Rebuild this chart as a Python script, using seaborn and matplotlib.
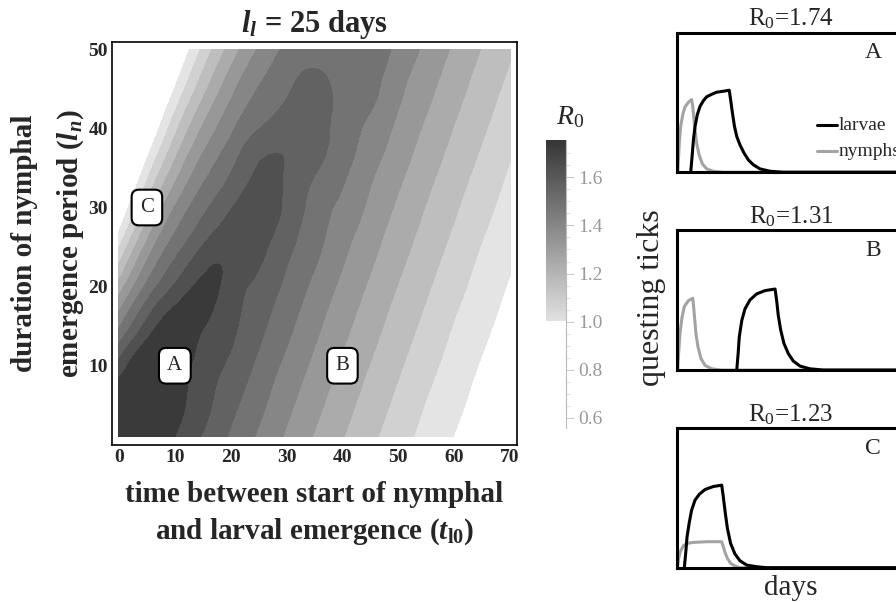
import numpy as np
import pandas as pd
import matplotlib
matplotlib.use("Agg")
import matplotlib.pyplot as plt
import matplotlib.tri as mtri
import seaborn as sns
from matplotlib.colors import LinearSegmentedColormap, Normalize
from matplotlib.cm import ScalarMappable

# R0: rows are l_n, columns are t_l0
t_l0 = [0, 5, 10, 15, 20, 25, 30, 35, 40, 45, 50, 55, 60, 65, 70]
l_n = [1, 5, 10, 15, 20, 25, 30, 35, 40, 45, 50]
r0 = [
    [1.750, 1.706, 1.630, 1.554, 1.481, 1.410, 1.341, 1.275, 1.213, 1.156, 1.099, 1.047, 0.998, 0.949, 0.901],
    [1.728, 1.728, 1.660, 1.584, 1.510, 1.439, 1.368, 1.301, 1.238, 1.178, 1.122, 1.066, 1.018, 0.969, 0.920],
    [1.585, 1.700, 1.675, 1.600, 1.547, 1.474, 1.403, 1.334, 1.269, 1.207, 1.150, 1.094, 1.042, 0.993, 0.945],
    [1.413, 1.585, 1.673, 1.635, 1.575, 1.510, 1.439, 1.368, 1.301, 1.238, 1.178, 1.122, 1.066, 1.018, 0.969],
    [1.241, 1.439, 1.570, 1.645, 1.600, 1.540, 1.474, 1.403, 1.334, 1.269, 1.207, 1.150, 1.094, 1.042, 0.993],
    [1.069, 1.305, 1.458, 1.565, 1.610, 1.584, 1.510, 1.439, 1.368, 1.301, 1.238, 1.178, 1.122, 1.066, 1.018],
    [0.910, 1.164, 1.354, 1.471, 1.555, 1.590, 1.547, 1.460, 1.403, 1.334, 1.269, 1.207, 1.150, 1.094, 1.042],
    [0.790, 1.029, 1.235, 1.384, 1.481, 1.565, 1.555, 1.500, 1.439, 1.368, 1.301, 1.238, 1.178, 1.122, 1.066],
    [0.685, 0.905, 1.119, 1.288, 1.406, 1.488, 1.525, 1.520, 1.460, 1.403, 1.334, 1.269, 1.207, 1.150, 1.094],
    [0.594, 0.800, 1.004, 1.185, 1.328, 1.423, 1.480, 1.515, 1.470, 1.439, 1.368, 1.301, 1.238, 1.178, 1.122],
    [0.520, 0.710, 0.900, 1.086, 1.237, 1.356, 1.434, 1.455, 1.455, 1.450, 1.403, 1.334, 1.269, 1.207, 1.150],
]
# extra readings along the crest of the R0 ridge
ridge_t = [5.1, 9.4, 13.6, 17.9, 22.1, 26.4, 30.6, 33.5, 35.5]
ridge_l = [7.5, 12.5, 17.5, 22.5, 27.5, 32.5, 37.5, 42.5, 47.5]
ridge_r0 = [1.714, 1.687, 1.659, 1.632, 1.604, 1.577, 1.549, 1.522, 1.490]
levels = [1.00, 1.07, 1.14, 1.21, 1.28, 1.35, 1.42, 1.49, 1.56, 1.63, 1.76]

mark_names = ["A", "B", "C"]
mark_t = [10, 40, 5]
mark_l = [10, 10, 30]
panel_r0 = ["1.74", "1.31", "1.23"]

# questing ticks curves (days, relative height) for the three scenarios
a_nymph_day = [0.3, 0.6, 1.0, 1.6, 2.5, 3.5, 5.0, 6.4, 6.9, 7.3, 7.9, 8.6, 9.7, 11.1, 13.0, 15.9, 20.3, 100]
a_nymph = [0, 0.088, 0.209, 0.328, 0.412, 0.467, 0.501, 0.520, 0.472, 0.400, 0.304, 0.209, 0.124,
           0.060, 0.024, 0.007, 0, 0]
a_larvae_day = [6.0, 6.6, 7.2, 7.9, 8.9, 10.1, 11.6, 13.0, 15.2, 17.4, 20.3, 22.9, 23.5, 24.3, 25.2,
                26.2, 27.6, 29.4, 31.3, 33.5, 36.4, 40.8, 46.6, 100]
a_larvae = [0, 0.112, 0.232, 0.328, 0.412, 0.472, 0.513, 0.540, 0.558, 0.573, 0.580, 0.587, 0.520,
            0.424, 0.328, 0.256, 0.196, 0.137, 0.088, 0.053, 0.024, 0.007, 0, 0]

b_nymph_day = [0.3, 0.7, 1.3, 2.2, 3.2, 5.0, 6.9, 7.3, 7.8, 8.3, 9.2, 10.5, 12.3, 15.2, 19.6, 100]
b_nymph = [0, 0.118, 0.26, 0.379, 0.455, 0.497, 0.514, 0.45, 0.355, 0.26, 0.166, 0.083, 0.033,
           0.009, 0, 0]
b_larvae_day = [26.2, 26.8, 27.3, 28.4, 29.8, 32.0, 34.9, 38.6, 43.0, 43.7, 44.4, 45.5, 46.9, 48.8,
                51.0, 54.0, 58.3, 64.2, 100]
b_larvae = [0, 0.118, 0.237, 0.355, 0.438, 0.502, 0.545, 0.569, 0.580, 0.498, 0.391, 0.284, 0.19,
            0.118, 0.064, 0.028, 0.009, 0, 0]

c_nymph_day = [0.2, 0.7, 1.6, 2.8, 4.5, 7.2, 13.0, 19.6, 20.3, 21.1, 22.1, 23.5, 25.4, 27.6, 100]
c_nymph = [0, 0.067, 0.121, 0.157, 0.174, 0.181, 0.186, 0.186, 0.15, 0.107, 0.067, 0.031, 0.012, 0, 0]
c_larvae_day = [3.2, 3.8, 4.4, 5.3, 6.4, 7.9, 9.8, 12.3, 15.9, 19.6, 20.3, 21.1, 22.1, 23.5, 25.4,
                27.6, 30.5, 34.9, 39.3, 100]
c_larvae = [0, 0.103, 0.221, 0.317, 0.412, 0.484, 0.526, 0.56, 0.581, 0.591, 0.507, 0.4, 0.281,
            0.174, 0.098, 0.05, 0.019, 0.007, 0, 0]

sns.set_style("white")
plt.rcParams['font.family'] = ['Liberation Serif', 'DejaVu Serif']
plt.rcParams['mathtext.fontset'] = 'custom'
plt.rcParams['mathtext.rm'] = 'Liberation Serif'
plt.rcParams['mathtext.it'] = 'Liberation Serif:italic'
plt.rcParams['mathtext.bf'] = 'Liberation Serif:bold'
plt.rcParams['mathtext.bfit'] = 'Liberation Serif:bold:italic'

band_colors = ['#e4e4e4', '#d1d1d1', '#bebebe', '#ababab', '#989898',
               '#868686', '#737373', '#626262', '#505050', '#3a3a3a']

fig = plt.figure(figsize=(8.96, 6.02), dpi=100)

# ---- contour map: grid + crest readings, smoothed by matplotlib's cubic refiner
ax = fig.add_axes([0.125, 0.261, 0.452, 0.669])
T, L = np.meshgrid(t_l0, l_n)
px = np.concatenate([T.ravel(), ridge_t])
py = np.concatenate([L.ravel(), ridge_l])
pz = np.concatenate([np.array(r0).ravel(), ridge_r0])
tri = mtri.Triangulation(px, py)
tri_f, z_f = mtri.UniformTriRefiner(tri).refine_field(pz, subdiv=3)
ax.tricontourf(tri_f, z_f, levels=levels, colors=band_colors)
ax.set_xlim(-1.25, 71.25)
ax.set_ylim(0, 50.9)
ax.set_xticks(range(0, 71, 10))
ax.set_yticks(range(10, 51, 10))
ax.tick_params(direction='in', length=3, width=0.8, labelsize=14, pad=3)
for lab in ax.get_xticklabels() + ax.get_yticklabels():
    lab.set_fontweight('bold')
for sp in ax.spines.values():
    sp.set_linewidth(1.2)
    sp.set_color('black')

for name, x, y in zip(mark_names, mark_t, mark_l):
    ax.text(x, y, name, fontsize=15, ha='center', va='center',
            bbox=dict(boxstyle='round,pad=0.4,rounding_size=0.35', fc='white', ec='black', lw=1.5))

ax.text(0.5, 1.045, r"$\mathbfit{l}_{\mathbfit{l}}$ = 25 days", transform=ax.transAxes,
        ha='center', va='center', fontsize=22, fontweight='bold')
ax.text(0.5, -0.172, "time between start of nymphal\n" + r"and larval emergence ($\mathbfit{t}_{\mathbf{l0}}$)",
        transform=ax.transAxes, ha='center', va='center', fontsize=21, fontweight='bold', linespacing=1.35)
ax.text(-0.157, 0.5, "duration of nymphal\n" + r"emergence period ($\mathbfit{l}_{\mathbfit{n}}$)",
        transform=ax.transAxes, ha='center', va='center', rotation=90, fontsize=21,
        fontweight='bold', linespacing=1.75)

# ---- colour bar
vmin, vmax = 0.558, 1.754
frac = (1.0 - vmin) / (vmax - vmin)
cmap = LinearSegmentedColormap.from_list(
    'r0', [(0, 'white'), (frac - 0.001, 'white'), (frac, '#e2e2e2'), (1, '#363636')])
cax = fig.add_axes([0.609, 0.289, 0.0223, 0.478])
cb = fig.colorbar(ScalarMappable(norm=Normalize(vmin, vmax), cmap=cmap), cax=cax)
cb.outline.set_visible(False)
cb.set_ticks([0.6, 0.8, 1.0, 1.2, 1.4, 1.6])
cb.ax.yaxis.set_ticks([0.65, 0.7, 0.75, 0.85, 0.9, 0.95, 1.05, 1.1, 1.15, 1.25, 1.3, 1.35,
                       1.45, 1.5, 1.55, 1.65, 1.7], minor=True)
cax.tick_params(which='major', length=6, width=0.6, color='#bbbbbb', labelcolor='#999999',
                labelsize=14, pad=3)
cax.tick_params(which='minor', length=3, width=0.5, color='#cccccc')
cax.plot([1, 1], [0, 1], transform=cax.transAxes, color='#bbbbbb', lw=0.8, clip_on=False)
cax.text(1.2, 1.08, r"$R_0$", transform=cax.transAxes, ha='center', va='center', fontsize=20)

# ---- tick curves
panels = [
    (0.7139, a_nymph_day, a_nymph, a_larvae_day, a_larvae),
    (0.3853, b_nymph_day, b_nymph, b_larvae_day, b_larvae),
    (0.0570, c_nymph_day, c_nymph, c_larvae_day, c_larvae),
]
for i, (bottom, nd, nv, ld, lv) in enumerate(panels):
    pax = fig.add_axes([0.7556, bottom, 0.2545, 0.232])
    df = pd.concat([
        pd.DataFrame({'day': nd, 'ticks': nv, 'stage': 'nymphs'}),
        pd.DataFrame({'day': ld, 'ticks': lv, 'stage': 'larvae'}),
    ])
    sns.lineplot(data=df, x='day', y='ticks', hue='stage', sort=False, estimator=None,
                 palette={'nymphs': '#a3a3a3', 'larvae': 'black'}, linewidth=2.2,
                 legend=False, ax=pax)
    pax.set_xlim(0, 100)
    pax.set_ylim(0, 1)
    pax.set_xticks([])
    pax.set_yticks([])
    pax.set_xlabel('')
    pax.set_ylabel('')
    for sp in pax.spines.values():
        sp.set_visible(True)
        sp.set_linewidth(2.2)
        sp.set_color('black')
    pax.set_title("R$_0$=" + panel_r0[i], fontsize=18, pad=5)
    pax.text(0.86, 0.855, mark_names[i], transform=pax.transAxes, ha='center', va='center',
             fontsize=17)
    if i == 0:
        pax.plot([0.614, 0.702], [0.338, 0.338], transform=pax.transAxes, color='black', lw=2.2)
        pax.plot([0.614, 0.702], [0.151, 0.151], transform=pax.transAxes, color='#a3a3a3', lw=2.2)
        pax.text(0.71, 0.338, "larvae", transform=pax.transAxes, va='center', fontsize=14)
        pax.text(0.71, 0.151, "nymphs", transform=pax.transAxes, va='center', fontsize=14)

fig.text(0.727, 0.505, "questing ticks", rotation=90, ha='center', va='center', fontsize=23)
fig.text(0.882, 0.023, "days", ha='center', va='center', fontsize=21)

fig.savefig("out.png", dpi=100)
